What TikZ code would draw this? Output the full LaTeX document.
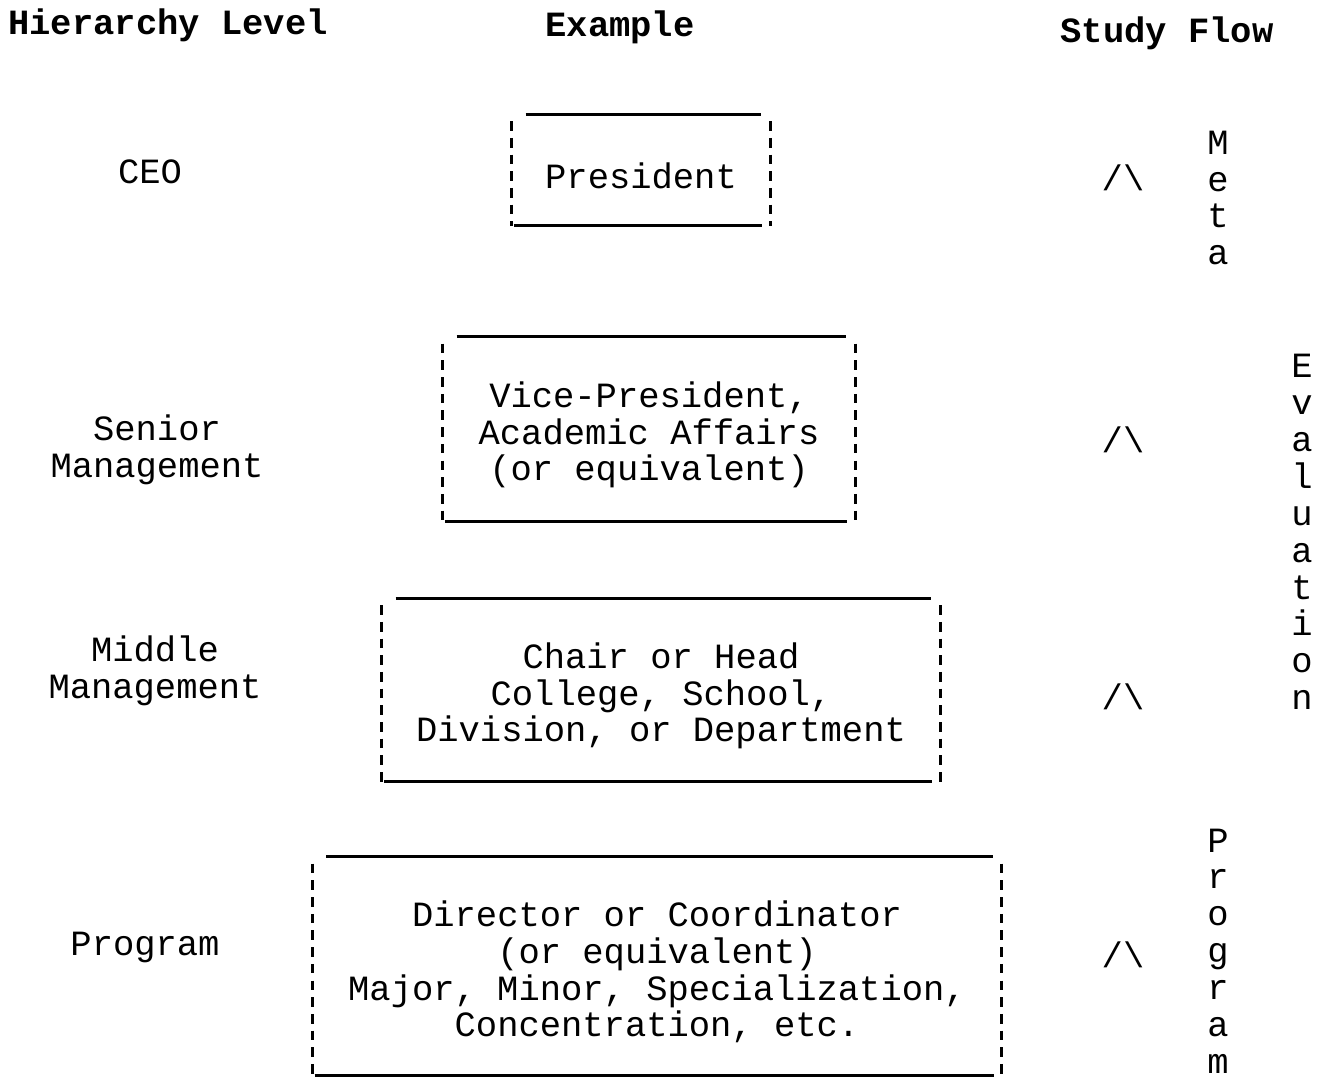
\documentclass[tikz,border=0pt]{standalone}
\usepackage{fontspec}
\setmainfont{Liberation Mono}
\usetikzlibrary{positioning}

\begin{document}
\begin{tikzpicture}[x=0.02cm, y=-0.02cm,
  every node/.style={font=\fontsize{20.2}{20.8}\selectfont, inner sep=0pt},
  head/.style={font=\fontsize{20.2}{20.8}\selectfont\bfseries},
  box/.style={align=center},
  level/.style={align=center},
  rule/.style={line width=1.6pt},
  side/.style={line width=1.6pt, dash pattern=on 5.5pt off 4pt},
  flow/.style={align=center, font=\fontsize{20.2}{21}\selectfont}]
  \useasboundingbox (0,0) rectangle (1320,1080);

  % Column heads
  \node[head] (hlevel) at (168,25) {Hierarchy Level};
  \node[head] (hexample) at (620,27) {Example};
  \node[head] (hflow) at (1167,33) {Study Flow};

  % Hierarchy levels
  \node[level] (ceo) at (150,172) {CEO};
  \node[level] (senior) at (157,450) {Senior\\Management};
  \node[level] (middle) at (155,671) {Middle\\Management};
  \node[level] (program) at (145,947) {Program};

  % Example boxes (text sits a little low in its frame)
  \node[box, minimum width=5.16cm, minimum height=2.22cm] (pres) at (641,176) {President};
  \node[box, minimum width=8.24cm, minimum height=3.68cm] (vp) at (649,435)
    {Vice-President,\\Academic Affairs\\(or equivalent)};
  \node[box, minimum width=11.16cm, minimum height=3.66cm] (mid) at (661,696)
    {Chair or Head\\College, School,\\Division, or Department};
  \node[box, minimum width=13.78cm, minimum height=4.36cm] (prog) at (657,972)
    {Director or Coordinator\\(or equivalent)\\Major, Minor, Specialization,\\Concentration, etc.};

  \foreach \b in {pres,vp,mid,prog} {
    \draw[rule] ([xshift=0.28cm,yshift=0.12cm]\b.north west) -- ([xshift=-0.18cm,yshift=0.12cm]\b.north east);
    \draw[rule] ([xshift=0.05cm,yshift=0.12cm]\b.south west) -- ([xshift=-0.16cm,yshift=0.12cm]\b.south east);
    \draw[side] ([yshift=-0.02cm]\b.north west) -- ([yshift=0.12cm]\b.south west);
    \draw[side] ([yshift=-0.02cm]\b.north east) -- ([yshift=0.12cm]\b.south east);
  }

  % Study flow
  \node (up1) at (1123,178) {/\textbackslash};
  \node (up2) at (1123,440) {/\textbackslash};
  \node (up3) at (1123,697) {/\textbackslash};
  \node (up4) at (1123,955) {/\textbackslash};

  \node[flow] (meta) at (1218,198) {M\\e\\t\\a};
  \node[flow] (evaluation) at (1302,532) {E\\v\\a\\l\\u\\a\\t\\i\\o\\n};
  \node[flow] (programv) at (1218,951) {P\\r\\o\\g\\r\\a\\m};
\end{tikzpicture}
\end{document}
